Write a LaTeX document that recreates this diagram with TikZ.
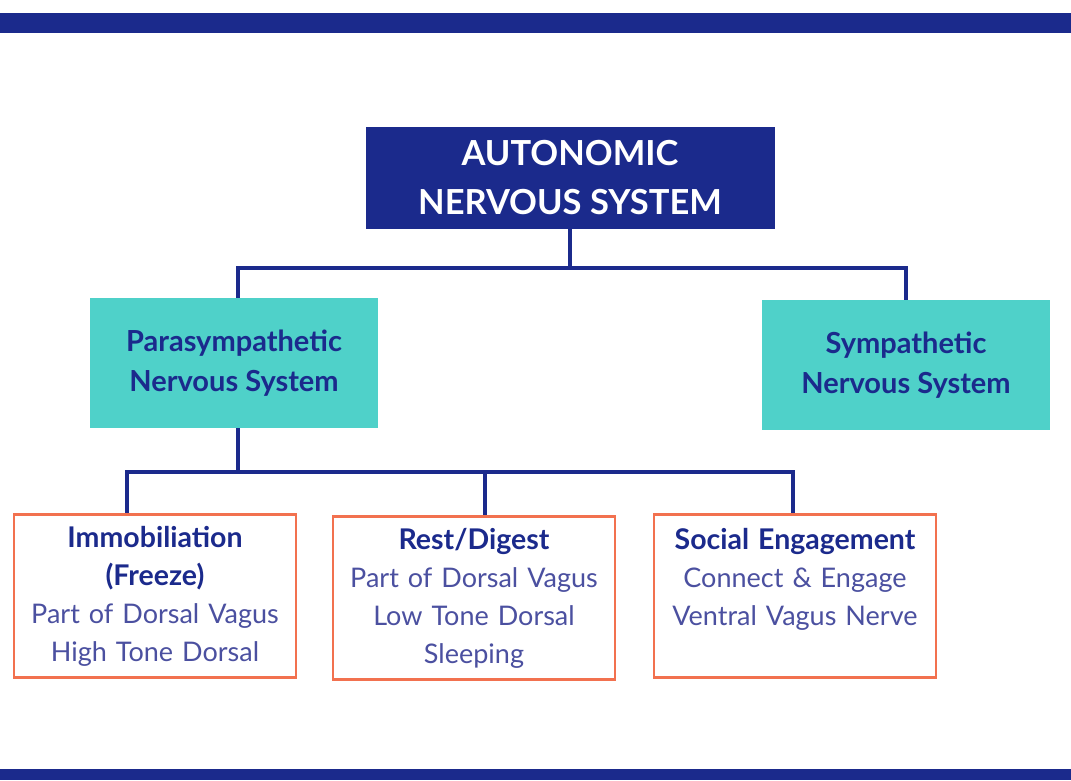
\documentclass[tikz,border=0pt]{standalone}
\usepackage{fontspec}
\setmainfont{Lato}
\definecolor{navy}{HTML}{1B2A8C}
\definecolor{teal2}{HTML}{4FD1C9}
\definecolor{orng}{HTML}{F2714F}
\definecolor{softblue}{HTML}{4B50A0}
\newcommand{\leaftitle}[1]{{\fontsize{28.5}{38}\selectfont\bfseries\color{navy}#1}}
\begin{document}
\begin{tikzpicture}[x=1pt, y=-1pt,
  topbox/.style={fill=navy, text=white, font=\fontsize{34.5}{49}\selectfont\bfseries,
    minimum width=409pt, minimum height=102pt, align=center},
  branch/.style={fill=teal2, text=navy, font=\fontsize{29}{40}\selectfont\bfseries,
    minimum width=288pt, minimum height=130pt, align=center},
  leaf/.style={draw=orng, line width=2.5pt, fill=white, text=softblue,
    font=\fontsize{27}{38}\selectfont, text width=274pt, align=center,
    minimum width=282pt, minimum height=163pt, inner sep=2pt},
  link/.style={draw=navy, line width=3.5pt}]
\useasboundingbox (0,0) rectangle (1071,780);
\fill[navy] (0,13) rectangle (1071,33);
\fill[navy] (0,769) rectangle (1071,780);
\node[topbox] (ans) at (570,178) {AUTONOMIC\\NERVOUS SYSTEM};
\node[branch] (para) at (234,363) {Parasympathetic\\Nervous System};
\node[branch] (symp) at (906,365) {Sympathetic\\Nervous System};
\node[leaf] (immo) at (155,596) {\leaftitle{Immobiliation}\\\leaftitle{(Freeze)}\\Part of Dorsal Vagus\\High Tone Dorsal};
\node[leaf] (rest) at (474,598) {\leaftitle{Rest/Digest}\\Part of Dorsal Vagus\\Low Tone Dorsal\\Sleeping};
\node[leaf] (social) at (795,596) {\leaftitle{Social Engagement}\\Connect \& Engage\\Ventral Vagus Nerve\\\mbox{}};
\draw[link] (ans.south) -- ++(0,39) -| ([xshift=4pt]para.north);
\draw[link] (ans.south) -- ++(0,39) -| (symp.north);
\draw[link] ([xshift=4pt]para.south) -- ++(0,44) -| ([xshift=-28pt]immo.north);
\draw[link] ([xshift=4pt]para.south) -- ++(0,44) -| ([xshift=11pt]rest.north);
\draw[link] ([xshift=4pt]para.south) -- ++(0,44) -| ([xshift=-2pt]social.north);
\end{tikzpicture}
\end{document}
